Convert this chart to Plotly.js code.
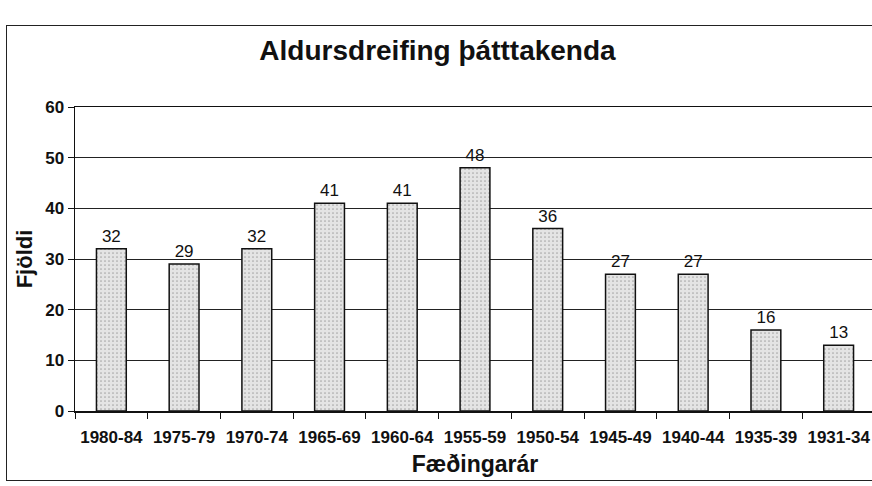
<!DOCTYPE html>
<html>
<head>
<meta charset="utf-8">
<script src="https://cdn.plot.ly/plotly-3.0.1.min.js"></script>
<style>
html,body{margin:0;padding:0;background:#fff;overflow:hidden;width:872px;height:486px;}
#frame{position:absolute;left:6px;top:25px;width:900px;height:456px;border:1.5px solid #222;box-sizing:border-box;pointer-events:none;}
#chart{position:absolute;left:0;top:0;width:875px;height:486px;}
</style>
</head>
<body>
<div id="chart"></div>
<div id="frame"></div>
<script>
const categories = ["1980-84","1975-79","1970-74","1965-69","1960-64","1955-59","1950-54","1945-49","1940-44","1935-39","1931-34"];
const counts = [32, 29, 32, 41, 41, 48, 36, 27, 27, 16, 13];
const yTicks = [0, 10, 20, 30, 40, 50, 60];
const chartTitle = "Aldursdreifing þátttakenda";
const xTitle = "Fæðingarár";
const yTitle = "Fjöldi";

const FONT = "Liberation Sans, Arial, sans-serif";

Plotly.newPlot("chart", [{
  type: "bar",
  x: categories,
  y: counts,
  text: counts.map(String),
  textposition: "outside",
  cliponaxis: false,
  textfont: {family: FONT, size: 17, color: "#111"},
  marker: {
    color: "#e2e2e2",
    line: {color: "#111", width: 1.5},
    pattern: {shape: ".", fgcolor: "#a8a8a8", bgcolor: "#e4e4e4", size: 4, solidity: 0.15}
  },
  hoverinfo: "x+y"
}], {
  width: 875,
  height: 486,
  margin: {l: 75, r: 0, t: 107, b: 75},
  paper_bgcolor: "rgba(0,0,0,0)",
  plot_bgcolor: "#fff",
  bargap: 0.59,
  showlegend: false,
  title: {
    text: chartTitle,
    font: {family: FONT, size: 28, color: "#111", weight: "bold"},
    x: 0.5, xref: "container", xanchor: "center",
    y: 1 - 50/486, yref: "container", yanchor: "middle"
  },
  xaxis: {
    type: "category",
    tickson: "boundaries",
    ticks: "outside",
    ticklen: 6,
    tickcolor: "#111",
    showline: true,
    mirror: true,
    linecolor: "#111",
    linewidth: 1.5,
    showgrid: false,
    ticklabelstandoff: 10,
    tickfont: {family: FONT, size: 17, color: "#111", weight: "bold"},
    title: {text: xTitle, font: {family: FONT, size: 23, color: "#111", weight: "bold"}, standoff: 10},
    automargin: false,
    fixedrange: true
  },
  yaxis: {
    range: [0, 60],
    tickvals: yTicks,
    ticks: "outside",
    ticklen: 6,
    tickcolor: "#111",
    showline: true,
    linecolor: "#111",
    linewidth: 1.5,
    showgrid: true,
    gridcolor: "#222",
    gridwidth: 1,
    zeroline: false,
    tickfont: {family: FONT, size: 17, color: "#111", weight: "bold"},
    title: {text: yTitle, font: {family: FONT, size: 22, color: "#111", weight: "bold"}, standoff: 6},
    automargin: false,
    fixedrange: true
  }
}, {displayModeBar: false, staticPlot: true});
</script>
</body>
</html>
